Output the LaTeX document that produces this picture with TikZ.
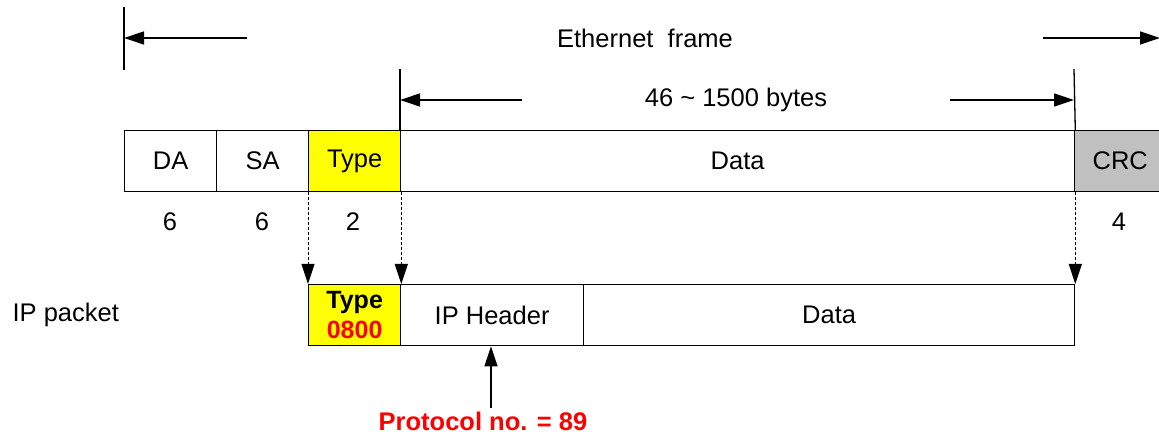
\documentclass[tikz,border=0pt]{standalone}
\usepackage{fontspec}
\setmainfont{Liberation Sans}
\usetikzlibrary{arrows.meta}
\definecolor{yel}{RGB}{255,255,0}
\definecolor{crcgray}{RGB}{192,192,192}
\begin{document}
\begin{tikzpicture}[x=1pt,y=-1pt,
  font=\fontsize{25.5}{29}\selectfont,
  line width=1.3pt,
  fbox/.style={draw, minimum height=61pt, inner sep=0pt, anchor=north west},
  tip/.style={-{Triangle[length=20pt,width=13pt]}},
  dtip/.style={-{Triangle[length=20pt,width=13pt]}, dash pattern=on 3pt off 2pt, line width=1pt},
  lbl/.style={inner sep=0pt}]
\useasboundingbox (0,0) rectangle (1159,438);
% frame row
\node[fbox, minimum width=92pt] (da) at (124,130) {DA};
\node[fbox, minimum width=92pt] (sa) at (216,130) {SA};
\node[fbox, minimum width=92pt, fill=yel] (type) at (308,130) {Type};
\node[fbox, minimum width=674pt] (data) at (400,130) {Data};
\node[fbox, minimum width=92pt, fill=crcgray, text width=90pt, align=left] (crc) at (1074,130) {\hspace*{17pt}CRC};
% sizes
\node[lbl] (n1) at (170,222) {6};
\node[lbl] (n2) at (262,222) {6};
\node[lbl] (n3) at (353,222) {2};
\node[lbl] (n4) at (1119,222) {4};
% ethernet frame dimension
\coordinate (ltop) at (124,7);
\coordinate (lbot) at (124,70);
\draw (ltop) -- (lbot);
\coordinate (la) at (247,38);
\coordinate (lb) at (124,38);
\draw[tip] (la) -- (lb);
\coordinate (ra) at (1043,38);
\coordinate (rb) at (1160,38);
\draw[tip] (ra) -- (rb);
\node[lbl] (eth) at (645,38) {Ethernet\ \ frame};
% data dimension
\coordinate (d1t) at (400,69);
\coordinate (d2t) at (1074,69);
\draw (d1t) -- (data.north west);
\draw (d2t) -- (data.north east);
\coordinate (a1) at (522,100);
\coordinate (a1e) at (400,100);
\coordinate (a2) at (950,100);
\coordinate (a2e) at (1074,100);
\draw[tip] (a1) -- (a1e);
\draw[tip] (a2) -- (a2e);
\node[lbl] (bytes) at (736,100) {46 \textasciitilde\ 1500 bytes};
% IP packet row
\node[fbox, minimum width=92pt, fill=yel, align=center, font=\fontsize{25}{30}\selectfont\bfseries] (ptype) at (308,284) {Type\\\textcolor{red}{0800}};
\node[fbox, minimum width=183pt] (iph) at (400,284) {IP Header};
\node[fbox, minimum width=491pt] (pdata) at (583,284) {Data};
\node[lbl, anchor=west] (ippkt) at (12,315) {IP packet};
% dashed mapping arrows
\draw[dtip] (type.south west) -- (ptype.north west);
\draw[dtip] (type.south east) -- (ptype.north east);
\draw[dtip] (data.south east) -- (pdata.north east);
% protocol
\node[lbl, text=red, font=\fontsize{25.5}{29}\selectfont\bfseries] (proto) at (483,421) {Protocol no. = 89};
\coordinate (pa) at (491,408);
\draw[tip] (pa) -- (iph.south -| pa);
\end{tikzpicture}
\end{document}
